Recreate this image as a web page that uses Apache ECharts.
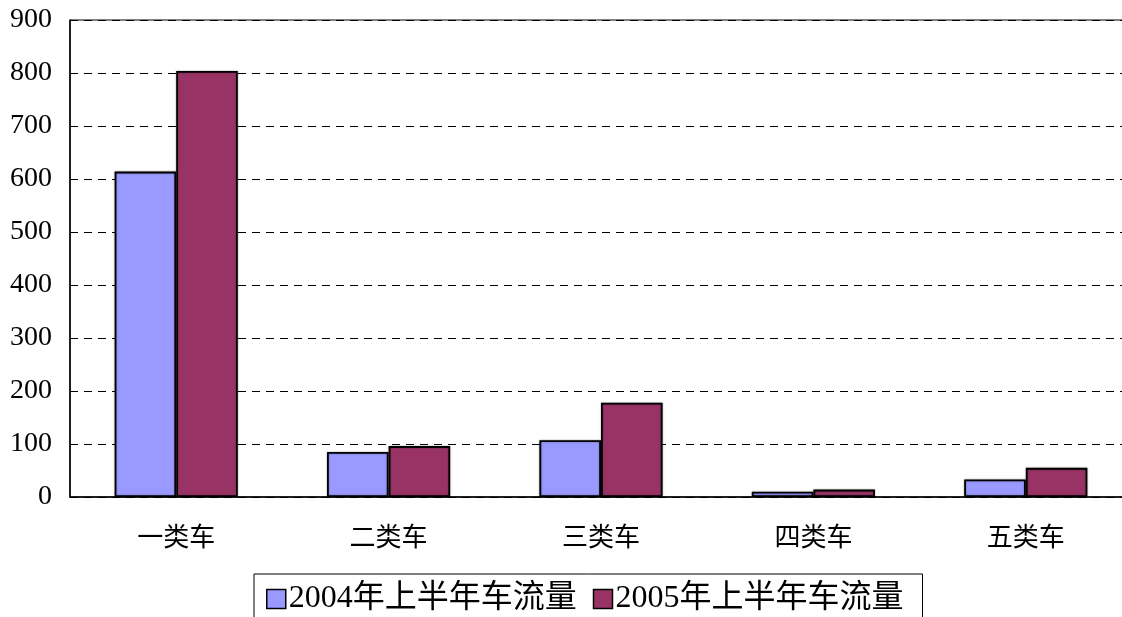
<!DOCTYPE html>
<html>
<head>
<meta charset="utf-8">
<script src="https://cdn.jsdelivr.net/npm/echarts@6/dist/echarts.min.js"></script>
<style>
  html, body { margin: 0; padding: 0; background: #fff; }
  #chart { width: 1122px; height: 617px; }
</style>
</head>
<body>
<div id="chart"></div>
<script>
// data
const categories = ["一类车", "二类车", "三类车", "四类车", "五类车"];
const flow2004 = [614, 85, 107, 10, 33];
const flow2005 = [804, 96, 178, 14, 55];
const seriesNames = ["2004年上半年车流量", "2005年上半年车流量"];

const palette = {
  y2004: "#9999FF",
  y2005: "#993366",
};

const fontFamily = "'Liberation Serif', 'Noto Sans CJK SC', serif";

const chart = echarts.init(document.getElementById("chart"));

const barStyle = (color) => ({
  color: color,
  borderColor: "#000",
  borderWidth: 1.8,
  shadowColor: "rgba(0,0,0,0.35)",
  shadowBlur: 2,
});

chart.setOption({
  animation: false,
  backgroundColor: "#fff",
  textStyle: { fontFamily },

  // plot runs a little past the right edge, like the original
  grid: {
    left: 70,
    right: -10,
    top: 20,
    bottom: 120,
    outerBoundsMode: "none",
    show: true,
    borderColor: "#000",
    borderWidth: 1,
  },

  legend: {
    data: seriesNames,
    left: 254,
    top: 574,
    orient: "horizontal",
    padding: [9, 19, 10, 12],
    itemGap: 16,
    itemWidth: 19,
    itemHeight: 19,
    borderColor: "#000",
    borderWidth: 1,
    icon: "rect",
    itemStyle: { borderColor: "#000", borderWidth: 1.5 },
    textStyle: {
      fontSize: 32,
      color: "#000",
      fontFamily,
      padding: [0, 0, 0, -2],
    },
  },

  xAxis: {
    type: "category",
    data: categories,
    axisLine: { lineStyle: { color: "#000", width: 1.5 } },
    axisTick: { show: false },
    axisLabel: { color: "#000", fontSize: 26, margin: 29, fontFamily },
    splitLine: { show: false },
  },

  yAxis: {
    type: "value",
    min: 0,
    max: 900,
    interval: 100,
    axisLine: { show: true, lineStyle: { color: "#000", width: 1.5 } },
    axisTick: { show: false },
    axisLabel: { color: "#000", fontSize: 28, margin: 18, fontFamily },
    splitLine: {
      show: true,
      lineStyle: { color: "#000", width: 1, type: [8, 6] },
    },
  },

  series: [
    {
      name: seriesNames[0],
      type: "bar",
      barGap: "0%",
      barCategoryGap: "42%",
      itemStyle: barStyle(palette.y2004),
      data: flow2004,
    },
    {
      name: seriesNames[1],
      type: "bar",
      barGap: "0%",
      barCategoryGap: "42%",
      itemStyle: barStyle(palette.y2005),
      data: flow2005,
    },
  ],
});
</script>
</body>
</html>
